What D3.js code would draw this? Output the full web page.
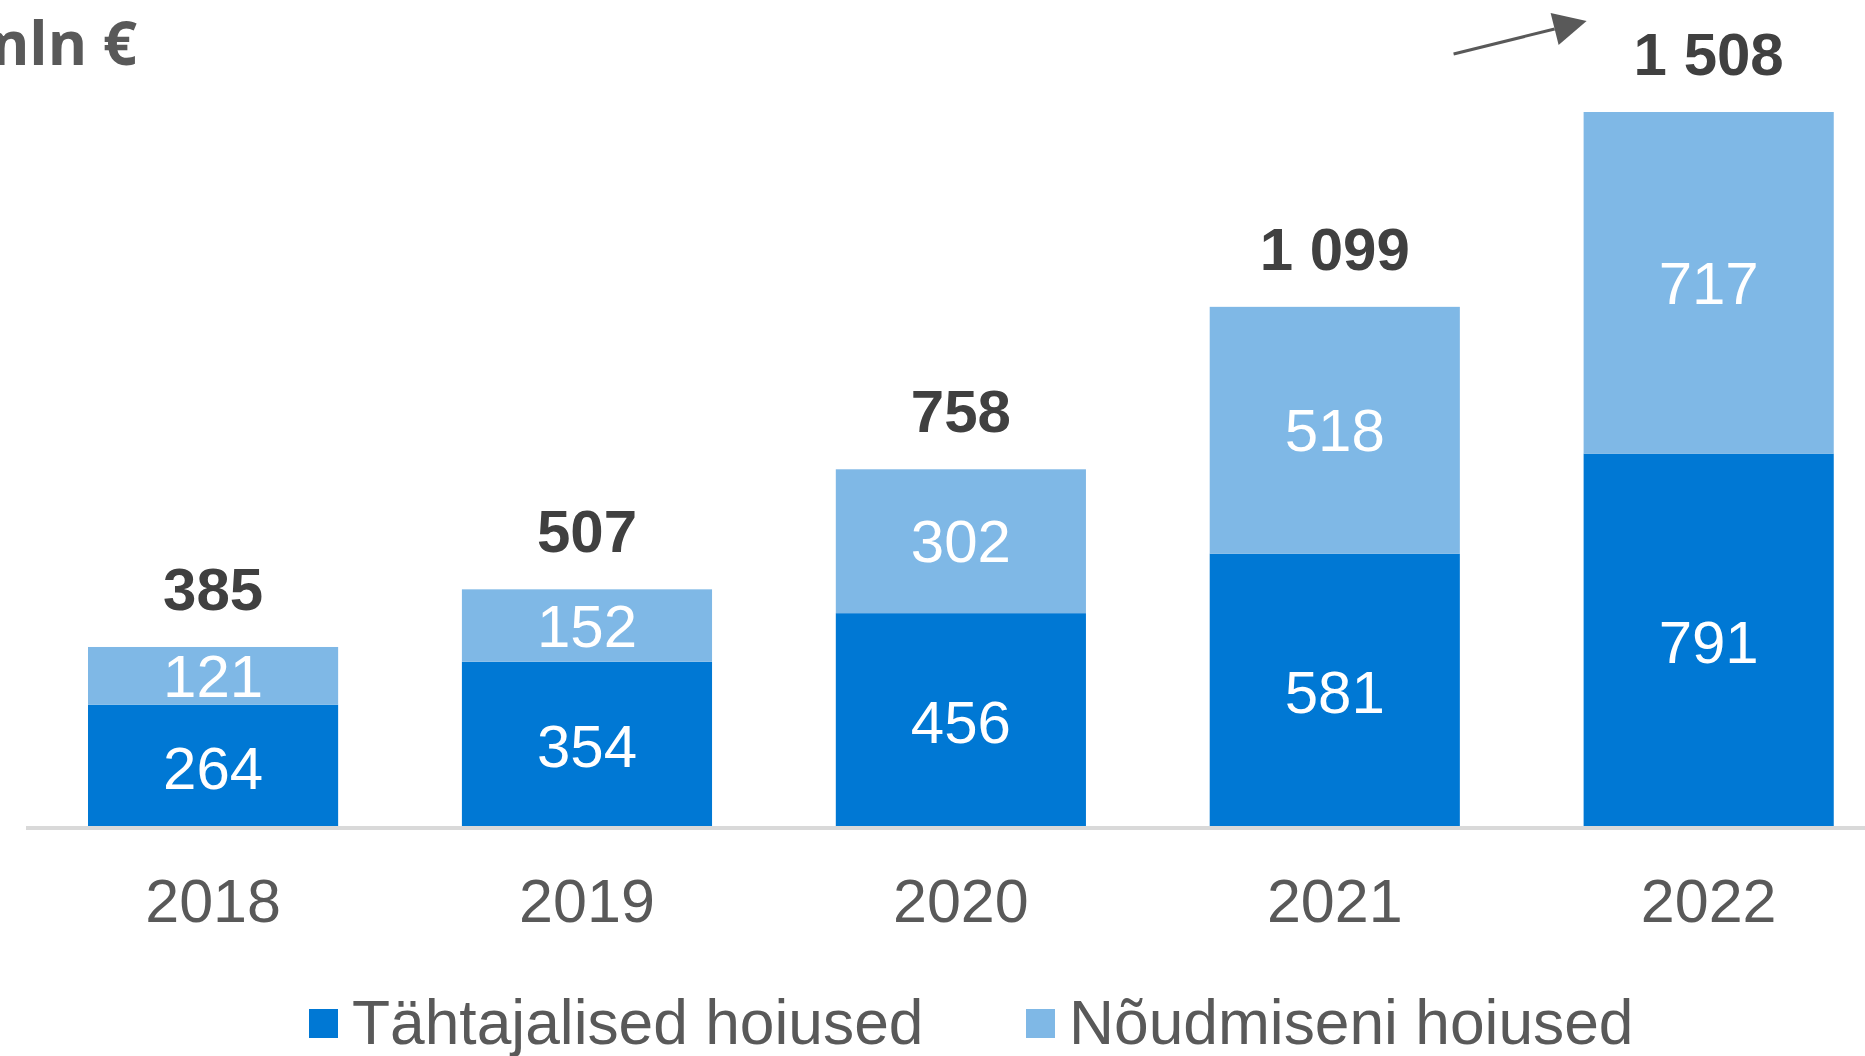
<!DOCTYPE html>
<html><head><meta charset="utf-8">
<script src="https://cdn.jsdelivr.net/npm/d3@7"></script>
<style>html,body{margin:0;padding:0;background:#fff;overflow:hidden}</style>
</head><body>
<svg id="c" width="1865" height="1056"></svg>
<script>
const years = ["2018","2019","2020","2021","2022"];
const termDeposits = [264, 354, 456, 581, 791];
const demandDeposits = [121, 152, 302, 518, 717];
const totals = [385, 507, 758, 1099, 1508];
const totalLabels = ["385","507","758","1 099","1 508"];
const seriesNames = ["Tähtajalised hoiused", "Nõudmiseni hoiused"];
const unitLabel = "mln €";

const colors = ["#0078D4", "#7FB8E6"];
const svg = d3.select("#c");
const font = "'Liberation Sans', Arial, sans-serif";

const x = d3.scaleBand().domain(years).range([88, 1833.75]).paddingInner(0.331).paddingOuter(0);
const y = d3.scaleLinear().domain([0, 1508]).range([830.4, 112]);
const axisTop = 826;

const data = years.map((yr, i) => ({year: yr, a: termDeposits[i], b: demandDeposits[i], total: totals[i], tl: totalLabels[i]}));
const stack = d3.stack().keys(["a","b"])(data);

const g = svg.append("g");
stack.forEach((layer, li) => {
  g.selectAll(null).data(layer).enter().append("rect")
    .attr("x", d => x(d.data.year))
    .attr("width", x.bandwidth())
    .attr("y", d => y(d[1]))
    .attr("height", d => Math.min(y(d[0]), axisTop) - y(d[1]))
    .attr("fill", colors[li]);
  g.selectAll(null).data(layer).enter().append("text")
    .attr("x", d => x(d.data.year) + x.bandwidth()/2)
    .attr("y", d => (y(d[0]) + y(d[1]))/2 + 21)
    .attr("text-anchor", "middle")
    .attr("font-family", font).attr("font-size", 60)
    .attr("fill", "#fff")
    .text(d => d[1] - d[0]);
});

// baseline
svg.append("line").attr("x1", 26).attr("x2", 1865).attr("y1", 828).attr("y2", 828)
  .attr("stroke", "#d9d9d9").attr("stroke-width", 4);

// totals
svg.selectAll(null).data(data).enter().append("text")
  .attr("x", d => x(d.year) + x.bandwidth()/2)
  .attr("y", d => y(d.total) - 37)
  .attr("text-anchor", "middle")
  .attr("font-family", font).attr("font-size", 60).attr("font-weight", "bold")
  .attr("fill", "#404040")
  .text(d => d.tl);

// category labels
svg.selectAll(null).data(years).enter().append("text")
  .attr("x", d => x(d) + x.bandwidth()/2)
  .attr("y", 922)
  .attr("text-anchor", "middle")
  .attr("font-family", font).attr("font-size", 61)
  .attr("fill", "#595959")
  .text(d => d);

// unit label (partly cut at left edge, as in the reference)
svg.append("text").attr("x", 137).attr("y", 65).attr("text-anchor", "end")
  .attr("font-family", "'Open Sans', 'Noto Sans', sans-serif").attr("font-size", 60).attr("font-weight", "bold")
  .attr("fill", "#595959").text(unitLabel);

// arrow annotation
const ax0 = x("2021") + x.bandwidth()*0.975, ay0 = 54;
const ax1 = x("2022") + 3, ay1 = 21;
svg.append("line").attr("x1", ax0).attr("y1", ay0).attr("x2", ax1 - 32).attr("y2", ay1 + 8)
  .attr("stroke", "#595959").attr("stroke-width", 3);
svg.append("path")
  .attr("d", `M${ax1},${ay1} L${ax1-36},${ay1-8} L${ax1-28},${ay1+24} Z`)
  .attr("fill", "#595959");

// legend
const legX = [309, 1026];
const leg = svg.selectAll(null).data(seriesNames).enter().append("g")
  .attr("transform", (d,i) => `translate(${legX[i]},0)`);
leg.append("rect").attr("x", 0).attr("y", 1009).attr("width", 29).attr("height", 29)
  .attr("fill", (d,i) => colors[i]);
leg.append("text").attr("x", 43).attr("y", 1044)
  .attr("font-family", font).attr("font-size", 62.3).attr("fill", "#595959")
  .text(d => d);
</script>
</body></html>
